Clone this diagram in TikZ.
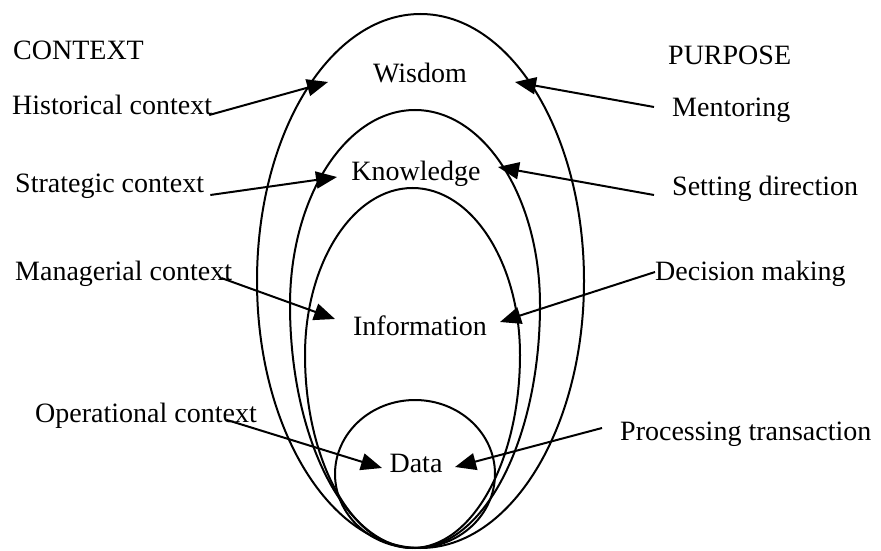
\documentclass[tikz,border=0pt]{standalone}
\usepackage{fontspec}
\setmainfont{Liberation Serif}
\usetikzlibrary{arrows.meta}
\tikzset{
>={Triangle[length=21pt,width=17pt]}, % big filled arrow heads
every node/.style={inner sep=0pt, font=\fontsize{28}{34}\selectfont}, % plain text labels
ring/.style={line width=2pt}, % the nested egg outlines
pointer/.style={->, line width=2pt}, % arrows from the labels
}

\begin{document}
\begin{tikzpicture}[x=1pt, y=1pt]
                \useasboundingbox (0,0) rectangle (881,550);
                % the four nested levels
                \draw[ring] (420.5,269) ellipse [x radius=163.5, y radius=267];
                \draw[ring] (290,245) arc[start angle=180, end angle=0, x radius=125, y radius=195]
                    arc[start angle=0, end angle=-180, x radius=125, y radius=243] -- cycle;
                \draw[ring] (305,195) arc[start angle=180, end angle=0, x radius=107.5, y radius=167]
                    arc[start angle=0, end angle=-180, x radius=107.5, y radius=193] -- cycle;
                \draw[ring] (415,76) ellipse [x radius=80, y radius=74];
                % level names
                \node[anchor=base] (wisdom) at (420,467) {Wisdom};
                \node[anchor=base] (knowledge) at (416,370) {Knowledge};
                \node[anchor=base] (information) at (420,215) {Information};
                \node[anchor=base] (data) at (416,78) {Data};
                % left column
                \node[anchor=base west] (context) at (13,490) {CONTEXT};
                \node[anchor=base west] (hist) at (12,435) {Historical context};
                \node[anchor=base west] (strat) at (15,357) {Strategic context};
                \node[anchor=base west] (manag) at (15,270) {Managerial context};
                \node[anchor=base west] (oper) at (35,128) {Operational context};
                % right column
                \node[anchor=base west] (purpose) at (668,485) {PURPOSE};
                \node[anchor=base west] (mentor) at (672,433) {Mentoring};
                \node[anchor=base west] (setdir) at (672,355) {Setting direction};
                \node[anchor=base west] (decide) at (655,270) {Decision making};
                \node[anchor=base west] (process) at (620,110) {Processing transaction};
                % where the arrows end
                \coordinate (histtip) at (328,468);
                \coordinate (strattip) at (337,373);
                \coordinate (managtip) at (335,231);
                \coordinate (opertip) at (382,82);
                \coordinate (mentortip) at (515,468);
                \coordinate (setdirtip) at (498,383);
                \coordinate (decidetip) at (500,228);
                \coordinate (processtip) at (455,83);
                \draw[pointer] ([xshift=-3pt]hist.base east) -- (histtip);
                \draw[pointer] ([xshift=6pt,yshift=-2pt]strat.base east) -- (strattip);
                \draw[pointer] ([xshift=-11pt,yshift=2pt]manag.base east) -- (managtip);
                \draw[pointer] ([xshift=-30pt,yshift=2pt]oper.base east) -- (opertip);
                \draw[pointer] ([xshift=-18pt,yshift=10pt]mentor.base west) -- (mentortip);
                \draw[pointer] ([xshift=-18pt]setdir.base west) -- (setdirtip);
                \draw[pointer] ([yshift=8pt]decide.base west) -- (decidetip);
                \draw[pointer] ([xshift=-18pt,yshift=12pt]process.base west) -- (processtip);
                \end{tikzpicture}
\end{document}
